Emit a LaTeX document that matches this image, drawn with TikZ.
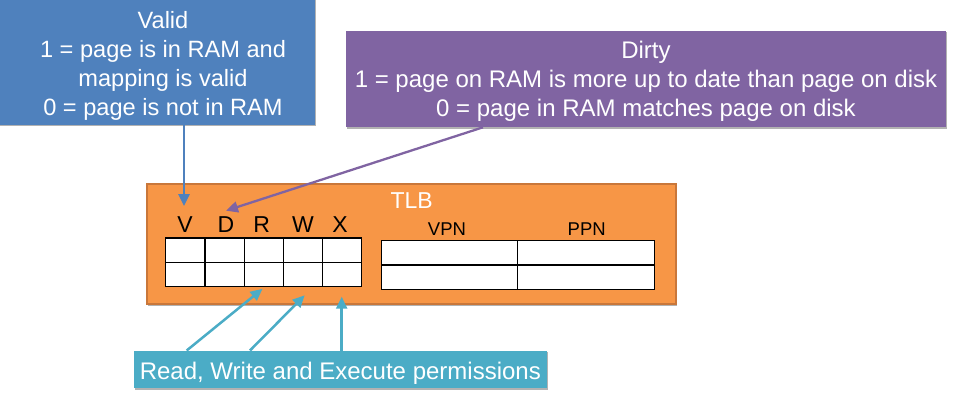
\documentclass[tikz,border=0pt]{standalone}
\usepackage{fontspec}
\setmainfont{Liberation Sans}
\usetikzlibrary{arrows.meta,shadows}
\definecolor{vblue}{HTML}{4F81BD}
\definecolor{dpurple}{HTML}{8064A2}
\definecolor{tlborange}{HTML}{F79646}
\definecolor{tlbborder}{HTML}{C9773A}
\definecolor{rteal}{HTML}{4BACC6}
\tikzset{
  box/.style={draw=none, inner sep=0pt, outer sep=0pt, anchor=north west,
    drop shadow={shadow xshift=1.2pt, shadow yshift=-1.5pt, opacity=0.3, fill=black}},
  wtext/.style={text=white, inner sep=0pt, outer sep=0pt},
  btext/.style={text=black, inner sep=0pt, outer sep=0pt},
  gridline/.style={draw=black, line width=1.1pt},
  conn/.style={line width=2.5pt, -{Triangle[length=12pt,width=11pt]}},
}
\begin{document}
\begin{tikzpicture}[x=1pt,y=-1pt]
\useasboundingbox (0,0) rectangle (955,409);
% boxes
\node[box, fill=vblue, minimum width=320pt, minimum height=130pt] (validbox) at (-5,-5) {};
\node[wtext, font=\fontsize{23.6}{29}\selectfont, align=center, anchor=north] (validtext) at (163,11.4)
  {Valid\\1 = page is in RAM and\\mapping is valid\\0 = page is not in RAM};
\node[box, fill=dpurple, minimum width=600pt, minimum height=96.3pt] (dirtybox) at (346,31) {};
\node[wtext, font=\fontsize{24}{29}\selectfont, align=center, anchor=north] (dirtytext) at (646,41.5)
  {Dirty\\1 = page on RAM is more up to date than page on disk\\0 = page in RAM matches page on disk};
\node[box, draw=tlbborder, line width=1.5pt, fill=tlborange, minimum width=529pt, minimum height=120pt] (tlb) at (147,184) {};
\node[wtext, font=\fontsize{23}{27}\selectfont, anchor=base] (tlblabel) at (411.7,208.3) {TLB};
% bit labels
\foreach \n/\t/\x in {lv/V/185, ld/D/226, lr/R/261.7, lw/W/303, lx/X/340}
  \node[btext, font=\fontsize{23}{27}\selectfont, anchor=base] (\n) at (\x,232.3) {\t};
\node[btext, font=\fontsize{18.5}{22}\selectfont, anchor=base] (vpn) at (447,235) {VPN};
\node[btext, font=\fontsize{18.5}{22}\selectfont, anchor=base] (ppn) at (586.7,235) {PPN};
% grids
\draw[gridline, fill=white] (165.7,238) rectangle (361.7,286.7);
\foreach \x in {205,244.3,283.3,322.3} \draw[gridline] (\x,238) -- (\x,286.7);
\draw[gridline] (165.7,262.3) -- (361.7,262.3);
\draw[gridline, fill=white] (381.7,240.7) rectangle (654.3,289.3);
\draw[gridline] (517.7,240.7) -- (517.7,289.3);
\draw[gridline] (381.7,265) -- (654.3,265);
% read box
\node[box, fill=rteal, minimum width=412.7pt, minimum height=37.5pt] (readbox) at (134,350.5) {};
\node[wtext, font=\fontsize{24}{28}\selectfont, anchor=base] (readtext) at (340.3,379) {Read, Write and Execute permissions};
% arrow tips
\coordinate (vtip) at (184,206);
\coordinate (dtip) at (226,210.7);
\coordinate (rtip) at (262.5,288.8);
\coordinate (wtip) at (304.7,295.3);
\coordinate (xtip) at (341.7,296.7);
% connectors
\draw[conn, vblue] (validbox.south -| vtip) -- (vtip);
\draw[conn, dpurple, line width=2.3pt] ([xshift=-163pt]dirtybox.south) -- (dtip);
\draw[conn, rteal] ([xshift=-153.65pt]readbox.north) -- (rtip);
\draw[conn, rteal] ([xshift=-90.35pt]readbox.north) -- (wtip);
\draw[conn, rteal] (readbox.north -| xtip) -- (xtip);
\end{tikzpicture}
\end{document}
